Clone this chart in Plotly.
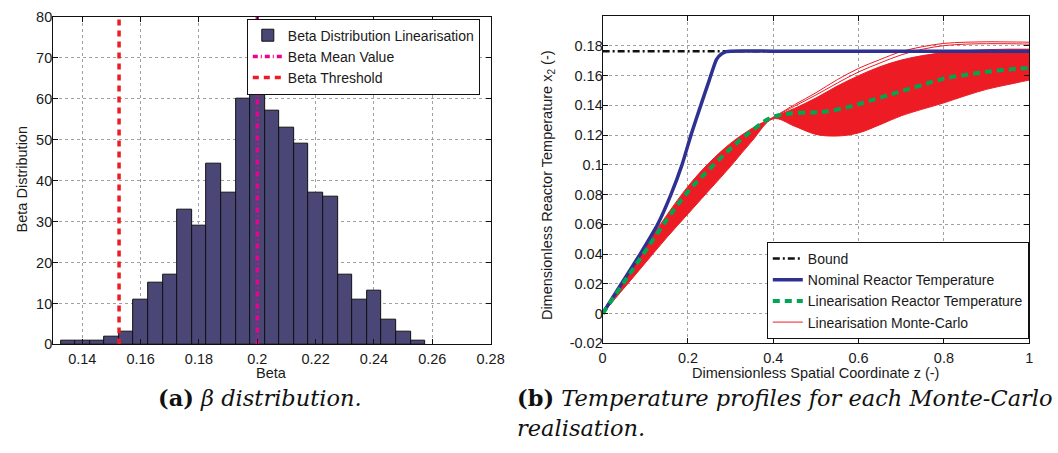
import plotly.graph_objects as go

# ---------------- (a) beta histogram ----------------
beta_bin_centers = [0.1351, 0.1401, 0.1451, 0.1501, 0.1551, 0.1601, 0.1651, 0.1701,
                    0.1751, 0.1801, 0.1851, 0.1901, 0.1951, 0.2001, 0.2051, 0.2101,
                    0.2151, 0.2201, 0.2251, 0.2301, 0.2351, 0.2401, 0.2451, 0.2501,
                    0.2551]
beta_counts = [1, 1, 1, 2, 3, 11, 15, 17, 33, 29, 44, 37, 60, 63, 57, 53, 49, 37, 36,
               17, 11, 13, 6, 3, 1]
beta_bin_width = 0.005
beta_mean = 0.2
beta_threshold = 0.1526
hist_y_limits = [0, 80]

beta_xticks = [0.14, 0.16, 0.18, 0.20, 0.22, 0.24, 0.26, 0.28]
beta_xticklabels = ["0.14", "0.16", "0.18", "0.2", "0.22", "0.24", "0.26", "0.28"]
beta_yticks = [0, 10, 20, 30, 40, 50, 60, 70, 80]

# ---------------- (b) temperature profiles ----------------
bound_z = [0.0, 1.0]
bound_y = [0.1765, 0.1765]

nominal_z = [0.0, 0.044, 0.088, 0.129, 0.16, 0.186, 0.207, 0.23, 0.25, 0.267, 0.278,
             0.29, 0.30, 0.40, 1.0]
nominal_y = [0.0, 0.020, 0.040, 0.060, 0.080, 0.100, 0.120, 0.140, 0.157, 0.171,
             0.1745, 0.1762, 0.1765, 0.1765, 0.1765]

lin_z = [0.0, 0.05, 0.10, 0.15, 0.20, 0.25, 0.30, 0.35, 0.393, 0.439, 0.493, 0.524,
         0.577, 0.635, 0.689, 0.743, 0.80, 0.862, 0.92, 0.977, 1.0]
lin_y = [0.0, 0.021, 0.042, 0.063, 0.082, 0.097, 0.111, 0.123, 0.1315, 0.1346, 0.1352,
         0.1359, 0.139, 0.1439, 0.1486, 0.1532, 0.158, 0.161, 0.1633, 0.1648, 0.1652]

# Monte-Carlo envelope (lower / upper edge of the bundle of realisations)
mc_z = [0.0, 0.05, 0.10, 0.15, 0.20, 0.25, 0.30, 0.35, 0.40, 0.45, 0.50, 0.55, 0.60,
        0.65, 0.70, 0.75, 0.80, 0.85, 0.90, 0.95, 1.0]
mc_lower = [0.0, 0.017, 0.034, 0.051, 0.067, 0.083, 0.099, 0.116, 0.131, 0.126, 0.1205,
            0.1194, 0.1215, 0.127, 0.133, 0.1375, 0.1417, 0.1465, 0.1508, 0.154, 0.157]
mc_upper = [0.0, 0.023, 0.045, 0.066, 0.0855, 0.1015, 0.1145, 0.1245, 0.132, 0.138,
            0.145, 0.153, 0.160, 0.166, 0.1705, 0.1735, 0.1755, 0.1768, 0.1775, 0.1778,
            0.1778]
# highest individual realisations
mc_top_z = [0.40, 0.45, 0.50, 0.55, 0.60, 0.65, 0.70, 0.75, 0.80, 0.85, 0.90, 0.95, 1.0]
mc_top_1 = [0.132, 0.1405, 0.1485, 0.1573, 0.1649, 0.1708, 0.1762, 0.1795, 0.1817,
            0.1825, 0.1828, 0.1827, 0.1825]
mc_top_2 = [0.132, 0.1395, 0.147, 0.155, 0.1625, 0.1685, 0.174, 0.1778, 0.1802, 0.1812,
            0.1815, 0.1815, 0.1812]

z_ticks = [0, 0.2, 0.4, 0.6, 0.8, 1.0]
z_ticklabels = ["0", "0.2", "0.4", "0.6", "0.8", "1"]
temp_yticks = [-0.02, 0, 0.02, 0.04, 0.06, 0.08, 0.10, 0.12, 0.14, 0.16, 0.18]
temp_yticklabels = ["-0.02", "0", "0.02", "0.04", "0.06", "0.08", "0.1", "0.12", "0.14",
                    "0.16", "0.18"]

W, H = 1058, 453
FONT = "Liberation Sans, Arial, sans-serif"
TXT = "#1a1a1a"
RED = "#ed1c24"

fig = go.Figure()

# histogram
fig.add_trace(go.Bar(
    x=beta_bin_centers, y=beta_counts, width=beta_bin_width,
    marker=dict(color="#4a4676", line=dict(color="#111111", width=1)),
    name="Beta Distribution Linearisation", xaxis="x", yaxis="y", legend="legend",
))
fig.add_trace(go.Scatter(
    x=[beta_mean, beta_mean], y=hist_y_limits, mode="lines",
    line=dict(color="#ec008c", width=3.5, dash="5px,3px,1px,3px"),
    name="Beta Mean Value", xaxis="x", yaxis="y", legend="legend",
))
fig.add_trace(go.Scatter(
    x=[beta_threshold, beta_threshold], y=hist_y_limits, mode="lines",
    line=dict(color=RED, width=3.5, dash="6px,5px"),
    name="Beta Threshold", xaxis="x", yaxis="y", legend="legend",
))

# Monte-Carlo bundle
fig.add_trace(go.Scatter(
    x=mc_z, y=mc_lower, mode="lines", line=dict(color=RED, width=1, shape="spline"),
    showlegend=False, xaxis="x2", yaxis="y2", hoverinfo="skip",
))
fig.add_trace(go.Scatter(
    x=mc_z, y=mc_upper, mode="lines", line=dict(color=RED, width=1, shape="spline"),
    fill="tonexty", fillcolor=RED, showlegend=False, xaxis="x2", yaxis="y2",
    hoverinfo="skip",
))
fig.add_trace(go.Scatter(
    x=mc_top_z, y=mc_top_2, mode="lines", line=dict(color=RED, width=1, shape="spline"),
    showlegend=False, xaxis="x2", yaxis="y2",
))
fig.add_trace(go.Scatter(
    x=mc_top_z, y=mc_top_1, mode="lines", line=dict(color=RED, width=1, shape="spline"),
    name="Linearisation Monte-Carlo", legendrank=4, xaxis="x2", yaxis="y2",
    legend="legend2",
))
fig.add_trace(go.Scatter(
    x=bound_z, y=bound_y, mode="lines",
    line=dict(color="#111111", width=2.5, dash="7px,3px,2px,3px"),
    name="Bound", legendrank=1, xaxis="x2", yaxis="y2", legend="legend2",
))
fig.add_trace(go.Scatter(
    x=nominal_z, y=nominal_y, mode="lines",
    line=dict(color="#2e3192", width=3.5, shape="spline", smoothing=0.6),
    name="Nominal Reactor Temperature", legendrank=2, xaxis="x2", yaxis="y2",
    legend="legend2",
))
fig.add_trace(go.Scatter(
    x=lin_z, y=lin_y, mode="lines",
    line=dict(color="#00a651", width=4, dash="7px,5px", shape="spline"),
    name="Linearisation Reactor Temperature", legendrank=3, xaxis="x2", yaxis="y2",
    legend="legend2",
))


def px_x(p):
    return p / W


def px_y(p):
    return 1 - p / H


axis_common = dict(
    showline=True, linecolor="#111111", linewidth=1, mirror="allticks",
    ticks="inside", ticklen=5, tickcolor="#111111", tickwidth=1,
    showgrid=True, gridcolor="#a0a0a0", griddash="dot", gridwidth=1,
    zeroline=False, tickfont=dict(family=FONT, size=14.5, color=TXT),
)

legend_common = dict(
    bgcolor="white", bordercolor="#111111", borderwidth=1,
    font=dict(family=FONT, size=14, color=TXT), tracegroupgap=0,
    traceorder="normal",
)

fig.update_layout(
    width=W, height=H, margin=dict(l=0, r=0, t=0, b=0),
    paper_bgcolor="white", plot_bgcolor="white", bargap=0,
    font=dict(family=FONT, size=14, color=TXT),
    xaxis=dict(domain=[px_x(50), px_x(495)], range=[0.13, 0.28], anchor="y",
               tickvals=beta_xticks, ticktext=beta_xticklabels, ticklabelstandoff=1,
               **axis_common),
    yaxis=dict(domain=[px_y(348.7), px_y(9)], range=hist_y_limits, anchor="x",
               tickvals=beta_yticks, ticklabelstandoff=-3, **axis_common),
    xaxis2=dict(domain=[px_x(609), px_x(1043)], range=[0, 1], anchor="y2",
                tickvals=z_ticks, ticktext=z_ticklabels, ticklabelstandoff=1,
                **axis_common),
    yaxis2=dict(domain=[px_y(347.5), px_y(8.5)], range=[-0.02, 0.2], anchor="x2",
                tickvals=temp_yticks, ticktext=temp_yticklabels, ticklabelstandoff=-4,
                **axis_common),
    legend=dict(x=px_x(247), y=px_y(11), xanchor="left", yanchor="top",
                **legend_common),
    legend2=dict(x=px_x(776), y=px_y(343), xanchor="left", yanchor="bottom",
                 **legend_common),
)

annotations = [
    dict(text="Beta", x=px_x(272), y=px_y(378), textangle=0),
    dict(text="Beta Distribution", x=px_x(18), y=px_y(178), textangle=-90),
    dict(text="Dimensionless Spatial Coordinate z (-)", x=px_x(826), y=px_y(378),
         textangle=0),
    dict(text="Dimensionless Reactor Temperature x<sub>2</sub> (-)", x=px_x(553),
         y=px_y(184), textangle=-90),
]
for a in annotations:
    fig.add_annotation(xref="paper", yref="paper", showarrow=False,
                       xanchor="center", yanchor="middle",
                       font=dict(family=FONT, size=14.5, color=TXT), **a)

CAP = "DejaVu Serif"
captions = [
    dict(text="<b>(a)</b> <i>β distribution.</i>", x=px_x(155), y=px_y(404)),
    dict(text="<b>(b)</b> <i>Temperature profiles for each Monte-Carlo</i>",
         x=px_x(520), y=px_y(404)),
    dict(text="<i>realisation.</i>", x=px_x(520), y=px_y(435)),
]
for c in captions:
    fig.add_annotation(xref="paper", yref="paper", showarrow=False,
                       xanchor="left", yanchor="middle",
                       font=dict(family=CAP, size=22.5, color="#111111"), **c)

fig.write_html("out.html")
